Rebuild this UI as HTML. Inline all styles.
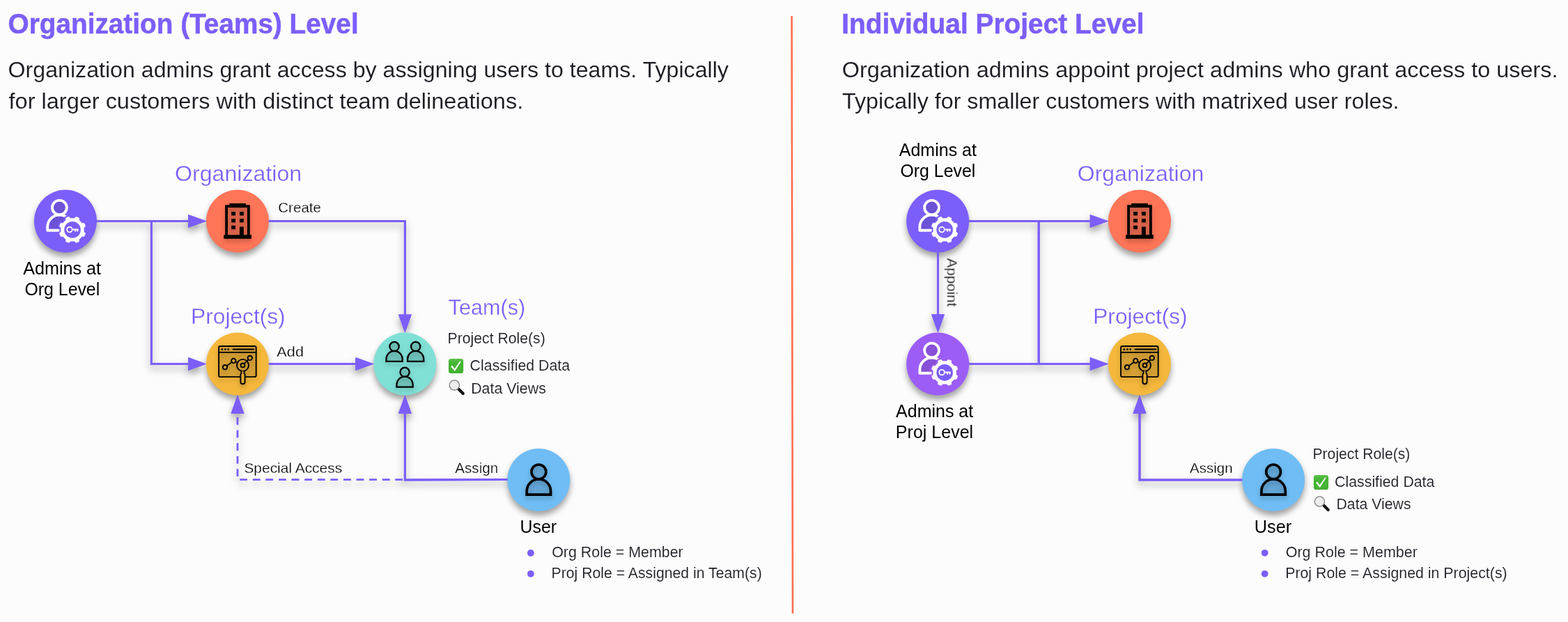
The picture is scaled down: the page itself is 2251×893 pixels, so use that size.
<!DOCTYPE html>
<html lang="en"><head><meta charset="utf-8"><title>Access control levels</title>
<style>html,body{margin:0;padding:0;background:#FCFCFC;}body{width:2251px;height:893px;overflow:hidden;}svg{display:block;}text{font-family:"Liberation Sans",sans-serif;white-space:pre;}</style>
</head><body>
<svg width="2251" height="893" viewBox="0 0 2251 893">
<defs>
<filter id="shc" filterUnits="userSpaceOnUse" x="0" y="0" width="2251" height="893" color-interpolation-filters="sRGB"><feDropShadow dx="0" dy="6" stdDeviation="4.5" flood-color="#000" flood-opacity="0.37"/></filter>
<filter id="shl" filterUnits="userSpaceOnUse" x="0" y="0" width="2251" height="893" color-interpolation-filters="sRGB"><feDropShadow dx="0" dy="6" stdDeviation="5.5" flood-color="#000" flood-opacity="0.38"/></filter>
<linearGradient id="gg" x1="0" y1="0" x2="0" y2="1"><stop offset="0" stop-color="#5FC24C"/><stop offset="0.25" stop-color="#47B535"/><stop offset="1" stop-color="#45B233"/></linearGradient>
<filter id="gs" filterUnits="userSpaceOnUse" x="0" y="0" width="2251" height="893"><feOffset dx="0" dy="0"/></filter>
<filter id="shw" filterUnits="userSpaceOnUse" x="0" y="0" width="2251" height="893" color-interpolation-filters="sRGB"><feDropShadow dx="0" dy="3" stdDeviation="3" flood-color="#000" flood-opacity="0.08"/></filter>
<filter id="shi" filterUnits="userSpaceOnUse" x="0" y="0" width="2251" height="893" color-interpolation-filters="sRGB"><feDropShadow dx="0" dy="4" stdDeviation="3.5" flood-color="#000" flood-opacity="0.22"/></filter>
<g id="usr"><path d="M-17.2,32.8 V27.7 A17.2,17.2 0 0 1 17.2,27.7 V32.8 Z"/><circle cx="0" cy="0" r="10.4"/></g>
<g id="usr2"><path d="M-17.5,32.8 V27.7 A17.5,17.5 0 0 1 17.5,27.7 V32.8 Z"/><circle cx="0" cy="0.8" r="10.0"/></g>
</defs>
<rect width="2251" height="893" fill="#FCFCFC"/>
<path d="M1136.6,23 L1138.0,880.7" stroke="#FF6E4E" stroke-width="2.6" fill="none"/>
<g filter="url(#gs)">
<text transform="translate(11.58,48.00) scale(0.9741,1)" font-size="39.8" font-weight="bold" fill="#7C5EFA" stroke="#7C5EFA" stroke-width="0.5">Organization (Teams) Level</text>
<text transform="translate(1208.30,48.00) scale(0.9772,1)" font-size="39.8" font-weight="bold" fill="#7C5EFA" stroke="#7C5EFA" stroke-width="0.5">Individual Project Level</text>
<text transform="translate(11.53,110.70) scale(1.0182,1)" font-size="31.6" font-weight="normal" fill="#1B1B22" stroke="#FCFCFC" stroke-width="0.1">Organization admins grant access by assigning users to teams. Typically</text>
<text transform="translate(12.59,155.50) scale(1.0283,1)" font-size="31.6" font-weight="normal" fill="#1B1B22" stroke="#FCFCFC" stroke-width="0.1">for larger customers with distinct team delineations.</text>
<text transform="translate(1208.72,110.70) scale(1.0271,1)" font-size="31.6" font-weight="normal" fill="#1B1B22" stroke="#FCFCFC" stroke-width="0.1">Organization admins appoint project admins who grant access to users.</text>
<text transform="translate(1209.07,155.50) scale(1.0214,1)" font-size="31.6" font-weight="normal" fill="#1B1B22" stroke="#FCFCFC" stroke-width="0.1">Typically for smaller customers with matrixed user roles.</text>
<text transform="translate(251.04,259.70) scale(1.0174,1)" font-size="31.6" font-weight="normal" fill="#7C5EFA" stroke="#FCFCFC" stroke-width="0.3">Organization</text>
<text transform="translate(274.06,464.50) scale(1.0033,1)" font-size="31.6" font-weight="normal" fill="#7C5EFA" stroke="#FCFCFC" stroke-width="0.3">Project(s)</text>
<text transform="translate(643.61,451.80) scale(0.9697,1)" font-size="31.6" font-weight="normal" fill="#7C5EFA" stroke="#FCFCFC" stroke-width="0.3">Team(s)</text>
<text transform="translate(1546.74,259.90) scale(1.0140,1)" font-size="31.6" font-weight="normal" fill="#7C5EFA" stroke="#FCFCFC" stroke-width="0.3">Organization</text>
<text transform="translate(1569.27,464.70) scale(1.0018,1)" font-size="31.6" font-weight="normal" fill="#7C5EFA" stroke="#FCFCFC" stroke-width="0.3">Project(s)</text>
<text transform="translate(33.28,393.50) scale(1.0059,1)" font-size="25" font-weight="normal" fill="#000000">Admins at</text>
<text transform="translate(35.52,423.90) scale(0.9942,1)" font-size="25" font-weight="normal" fill="#000000">Org Level</text>
<text transform="translate(1290.78,224.40) scale(1.0004,1)" font-size="25" font-weight="normal" fill="#000000">Admins at</text>
<text transform="translate(1292.42,254.00) scale(0.9952,1)" font-size="25" font-weight="normal" fill="#000000">Org Level</text>
<text transform="translate(1286.08,598.60) scale(0.9995,1)" font-size="25" font-weight="normal" fill="#000000">Admins at</text>
<text transform="translate(1285.84,628.80) scale(1.0019,1)" font-size="25" font-weight="normal" fill="#000000">Proj Level</text>
<text transform="translate(746.41,764.90) scale(0.9982,1)" font-size="25" font-weight="normal" fill="#000000">User</text>
<text transform="translate(1800.78,765.00) scale(1.0121,1)" font-size="25" font-weight="normal" fill="#000000">User</text>
<text transform="translate(399.23,304.80) scale(0.9850,1)" font-size="20.9" font-weight="normal" fill="#000000" stroke="#FCFCFC" stroke-width="0.25">Create</text>
<text transform="translate(397.37,511.50) scale(1.0377,1)" font-size="20.9" font-weight="normal" fill="#000000" stroke="#FCFCFC" stroke-width="0.25">Add</text>
<text transform="translate(350.39,678.80) scale(1.0023,1)" font-size="20.9" font-weight="normal" fill="#000000" stroke="#FCFCFC" stroke-width="0.25">Special Access</text>
<text transform="translate(653.29,678.80) scale(0.9861,1)" font-size="20.9" font-weight="normal" fill="#000000" stroke="#FCFCFC" stroke-width="0.25">Assign</text>
<text transform="translate(1707.99,678.60) scale(0.9828,1)" font-size="20.9" font-weight="normal" fill="#000000" stroke="#FCFCFC" stroke-width="0.25">Assign</text>
<text transform="translate(642.57,493.00) scale(1.0004,1)" font-size="21.2" font-weight="normal" fill="#1B1B22" stroke="#FCFCFC" stroke-width="0.12">Project Role(s)</text>
<text transform="translate(674.60,532.00) scale(1.0075,1)" font-size="21.2" font-weight="normal" fill="#1B1B22" stroke="#FCFCFC" stroke-width="0.12">Classified Data</text>
<text transform="translate(676.15,564.50) scale(1.0089,1)" font-size="21.2" font-weight="normal" fill="#1B1B22" stroke="#FCFCFC" stroke-width="0.12">Data Views</text>
<text transform="translate(1884.47,659.10) scale(0.9982,1)" font-size="21.2" font-weight="normal" fill="#1B1B22" stroke="#FCFCFC" stroke-width="0.12">Project Role(s)</text>
<text transform="translate(1916.10,699.00) scale(1.0054,1)" font-size="21.2" font-weight="normal" fill="#1B1B22" stroke="#FCFCFC" stroke-width="0.12">Classified Data</text>
<text transform="translate(1918.46,731.00) scale(1.0031,1)" font-size="21.2" font-weight="normal" fill="#1B1B22" stroke="#FCFCFC" stroke-width="0.12">Data Views</text>
<text transform="translate(792.14,800.00) scale(1.0104,1)" font-size="21.2" font-weight="normal" fill="#1B1B22" stroke="#FCFCFC" stroke-width="0.12">Org Role = Member</text>
<text transform="translate(791.56,829.80) scale(1.0017,1)" font-size="21.2" font-weight="normal" fill="#1B1B22" stroke="#FCFCFC" stroke-width="0.12">Proj Role = Assigned in Team(s)</text>
<text transform="translate(1845.74,800.00) scale(1.0125,1)" font-size="21.2" font-weight="normal" fill="#1B1B22" stroke="#FCFCFC" stroke-width="0.12">Org Role = Member</text>
<text transform="translate(1845.15,830.00) scale(1.0074,1)" font-size="21.2" font-weight="normal" fill="#1B1B22" stroke="#FCFCFC" stroke-width="0.12">Proj Role = Assigned in Project(s)</text>
<text transform="translate(1359.6,370.6) rotate(90) scale(0.985,1)" font-size="20.9" fill="#000" stroke="#FCFCFC" stroke-width="0.25">Appoint</text>
</g>
<g filter="url(#shl)">
<g fill="#7C5EFA" stroke="#7C5EFA" stroke-width="3" stroke-linejoin="miter">
<g fill="none">
<path d="M138.6,317.5 H272"/>
<path d="M217.4,317.5 V522.5 H272"/>
<path d="M385.6,317.5 H581.4 V453"/>
<path d="M385.6,522.5 H512"/>
<path d="M728.8,688.5 L581.4,689.0 V592"/>
<path d="M581.4,688.8 H341 V592" stroke-width="2.5" stroke-dasharray="10.6 8" stroke-dashoffset="-3.3"/>
<path d="M1390.8,317.5 H1567"/>
<path d="M1390.8,522.5 H1567"/>
<path d="M1491.2,317.5 V522.5"/>
<path d="M1346.5,362 V453"/>
<path d="M1783.5,689.0 H1636 V592"/>
</g>
<g stroke="none">
<polygon points="296.6,317.5 270.1,308.0 270.1,327.0"/>
<polygon points="296.6,522.5 270.1,513.0 270.1,532.0"/>
<polygon points="581.4,478.0 571.9,451.5 590.9,451.5"/>
<polygon points="536.8,522.5 510.3,513.0 510.3,532.0"/>
<polygon points="581.4,567.3 571.9,593.8 590.9,593.8"/>
<polygon points="341.0,567.3 331.5,593.8 350.5,593.8"/>
<polygon points="1591.3,317.5 1564.8,308.0 1564.8,327.0"/>
<polygon points="1591.3,522.5 1564.8,513.0 1564.8,532.0"/>
<polygon points="1346.5,477.8 1337.0,451.3 1356.0,451.3"/>
<polygon points="1636.0,567.3 1626.5,593.8 1645.5,593.8"/>
</g>
</g>
</g>
<g filter="url(#shc)">
<circle cx="94.0" cy="317.5" r="45" fill="#7C5EFA"/>
<circle cx="341.0" cy="317.5" r="45" fill="#FF7557"/>
<circle cx="341.0" cy="522.5" r="45" fill="#F5B83C"/>
<circle cx="581.4" cy="522.5" r="45" fill="#80E0D6"/>
<circle cx="773.4" cy="689.0" r="45" fill="#70BDF5"/>
<circle cx="1346.2" cy="317.5" r="45" fill="#7C5EFA"/>
<circle cx="1346.2" cy="522.5" r="45" fill="#9C5CF6"/>
<circle cx="1636.0" cy="317.5" r="45" fill="#FF7557"/>
<circle cx="1636.0" cy="522.5" r="45" fill="#F5B83C"/>
<circle cx="1828.1" cy="689.0" r="45" fill="#70BDF5"/>
</g>
<g fill="#7C5EFA" stroke="#7C5EFA" stroke-width="3" stroke-linejoin="miter">
<g fill="none">
<path d="M138.6,317.5 H272"/>
<path d="M217.4,317.5 V522.5 H272"/>
<path d="M385.6,317.5 H581.4 V453"/>
<path d="M385.6,522.5 H512"/>
<path d="M728.8,688.5 L581.4,689.0 V592"/>
<path d="M581.4,688.8 H341 V592" stroke-width="2.5" stroke-dasharray="10.6 8" stroke-dashoffset="-3.3"/>
<path d="M1390.8,317.5 H1567"/>
<path d="M1390.8,522.5 H1567"/>
<path d="M1491.2,317.5 V522.5"/>
<path d="M1346.5,362 V453"/>
<path d="M1783.5,689.0 H1636 V592"/>
</g>
<g stroke="none">
<polygon points="296.6,317.5 270.1,308.0 270.1,327.0"/>
<polygon points="296.6,522.5 270.1,513.0 270.1,532.0"/>
<polygon points="581.4,478.0 571.9,451.5 590.9,451.5"/>
<polygon points="536.8,522.5 510.3,513.0 510.3,532.0"/>
<polygon points="581.4,567.3 571.9,593.8 590.9,593.8"/>
<polygon points="341.0,567.3 331.5,593.8 350.5,593.8"/>
<polygon points="1591.3,317.5 1564.8,308.0 1564.8,327.0"/>
<polygon points="1591.3,522.5 1564.8,513.0 1564.8,532.0"/>
<polygon points="1346.5,477.8 1337.0,451.3 1356.0,451.3"/>
<polygon points="1636.0,567.3 1626.5,593.8 1645.5,593.8"/>
</g>
</g>
<g>
<use href="#usr" x="85.40" y="298.00" fill="rgba(0,0,0,0.13)" stroke="#fff" stroke-width="3.9" stroke-linejoin="round"/>
<path d="M121.54,332.26L124.09,334.47A20.6,20.6 0 0 1 121.44,340.87L118.07,340.64A17.7,17.7 0 0 1 114.74,343.97L114.97,347.34A20.6,20.6 0 0 1 108.57,349.99L106.36,347.44A17.7,17.7 0 0 1 101.64,347.44L99.43,349.99A20.6,20.6 0 0 1 93.03,347.34L93.26,343.97A17.7,17.7 0 0 1 89.93,340.64L86.56,340.87A20.6,20.6 0 0 1 83.91,334.47L86.46,332.26A17.7,17.7 0 0 1 86.46,327.54L83.91,325.33A20.6,20.6 0 0 1 86.56,318.93L89.93,319.16A17.7,17.7 0 0 1 93.26,315.83L93.03,312.46A20.6,20.6 0 0 1 99.43,309.81L101.64,312.36A17.7,17.7 0 0 1 106.36,312.36L108.57,309.81A20.6,20.6 0 0 1 114.97,312.46L114.74,315.83A17.7,17.7 0 0 1 118.07,319.16L121.44,318.93A20.6,20.6 0 0 1 124.09,325.33L121.54,327.54A17.7,17.7 0 0 1 121.54,332.26Z" fill="#fff" stroke="#7C5EFA" stroke-width="2" stroke-linejoin="round"/>
</g>
<circle cx="104.00" cy="329.90" r="11.8" fill="#7C5EFA"/>
<g fill="none" stroke="#fff" stroke-width="1.7"><circle cx="99.90" cy="329.60" r="3.8"/><path d="M103.70,329.60 H112.60 M107.90,329.60 v3 M111.30,329.60 v3" stroke-width="2"/></g>
<g>
<use href="#usr" x="1337.60" y="298.00" fill="rgba(0,0,0,0.13)" stroke="#fff" stroke-width="3.9" stroke-linejoin="round"/>
<path d="M1373.74,332.26L1376.29,334.47A20.6,20.6 0 0 1 1373.64,340.87L1370.27,340.64A17.7,17.7 0 0 1 1366.94,343.97L1367.17,347.34A20.6,20.6 0 0 1 1360.77,349.99L1358.56,347.44A17.7,17.7 0 0 1 1353.84,347.44L1351.63,349.99A20.6,20.6 0 0 1 1345.23,347.34L1345.46,343.97A17.7,17.7 0 0 1 1342.13,340.64L1338.76,340.87A20.6,20.6 0 0 1 1336.11,334.47L1338.66,332.26A17.7,17.7 0 0 1 1338.66,327.54L1336.11,325.33A20.6,20.6 0 0 1 1338.76,318.93L1342.13,319.16A17.7,17.7 0 0 1 1345.46,315.83L1345.23,312.46A20.6,20.6 0 0 1 1351.63,309.81L1353.84,312.36A17.7,17.7 0 0 1 1358.56,312.36L1360.77,309.81A20.6,20.6 0 0 1 1367.17,312.46L1366.94,315.83A17.7,17.7 0 0 1 1370.27,319.16L1373.64,318.93A20.6,20.6 0 0 1 1376.29,325.33L1373.74,327.54A17.7,17.7 0 0 1 1373.74,332.26Z" fill="#fff" stroke="#7C5EFA" stroke-width="2" stroke-linejoin="round"/>
</g>
<circle cx="1356.20" cy="329.90" r="11.8" fill="#7C5EFA"/>
<g fill="none" stroke="#fff" stroke-width="1.7"><circle cx="1352.10" cy="329.60" r="3.8"/><path d="M1355.90,329.60 H1364.80 M1360.10,329.60 v3 M1363.50,329.60 v3" stroke-width="2"/></g>
<g>
<use href="#usr" x="1337.60" y="503.00" fill="rgba(0,0,0,0.13)" stroke="#fff" stroke-width="3.9" stroke-linejoin="round"/>
<path d="M1373.74,537.26L1376.29,539.47A20.6,20.6 0 0 1 1373.64,545.87L1370.27,545.64A17.7,17.7 0 0 1 1366.94,548.97L1367.17,552.34A20.6,20.6 0 0 1 1360.77,554.99L1358.56,552.44A17.7,17.7 0 0 1 1353.84,552.44L1351.63,554.99A20.6,20.6 0 0 1 1345.23,552.34L1345.46,548.97A17.7,17.7 0 0 1 1342.13,545.64L1338.76,545.87A20.6,20.6 0 0 1 1336.11,539.47L1338.66,537.26A17.7,17.7 0 0 1 1338.66,532.54L1336.11,530.33A20.6,20.6 0 0 1 1338.76,523.93L1342.13,524.16A17.7,17.7 0 0 1 1345.46,520.83L1345.23,517.46A20.6,20.6 0 0 1 1351.63,514.81L1353.84,517.36A17.7,17.7 0 0 1 1358.56,517.36L1360.77,514.81A20.6,20.6 0 0 1 1367.17,517.46L1366.94,520.83A17.7,17.7 0 0 1 1370.27,524.16L1373.64,523.93A20.6,20.6 0 0 1 1376.29,530.33L1373.74,532.54A17.7,17.7 0 0 1 1373.74,537.26Z" fill="#fff" stroke="#9C5CF6" stroke-width="2" stroke-linejoin="round"/>
</g>
<circle cx="1356.20" cy="534.90" r="11.8" fill="#7C5EFA"/>
<g fill="none" stroke="#fff" stroke-width="1.7"><circle cx="1352.10" cy="534.60" r="3.8"/><path d="M1355.90,534.60 H1364.80 M1360.10,534.60 v3 M1363.50,534.60 v3" stroke-width="2"/></g>
<g transform="translate(0.00,0.00)">
<g filter="url(#shi)">
<rect x="327" y="298" width="28" height="40" fill="rgba(0,0,0,0.09)"/>
<path fill="#000" fill-rule="evenodd" d="M329.3,292 H352.9 V294.3 H358.8 V337.3 H360.9 V342.8 H321.3 V337.3 H323.2 V294.3 H329.3 Z M327,298.1 V337.3 H344 V325.5 H349.8 V337.3 H355 V298.1 Z"/>
<rect x="332.2" y="304.0" width="5.8" height="5.4" fill="#000"/>
<rect x="332.2" y="314.0" width="5.8" height="5.4" fill="#000"/>
<rect x="332.2" y="323.8" width="5.8" height="5.4" fill="#000"/>
<rect x="344.0" y="304.0" width="5.8" height="5.4" fill="#000"/>
<rect x="344.0" y="314.0" width="5.8" height="5.4" fill="#000"/>
</g></g>
<g transform="translate(1295.00,0.00)">
<g filter="url(#shi)">
<rect x="327" y="298" width="28" height="40" fill="rgba(0,0,0,0.09)"/>
<path fill="#000" fill-rule="evenodd" d="M329.3,292 H352.9 V294.3 H358.8 V337.3 H360.9 V342.8 H321.3 V337.3 H323.2 V294.3 H329.3 Z M327,298.1 V337.3 H344 V325.5 H349.8 V337.3 H355 V298.1 Z"/>
<rect x="332.2" y="304.0" width="5.8" height="5.4" fill="#000"/>
<rect x="332.2" y="314.0" width="5.8" height="5.4" fill="#000"/>
<rect x="332.2" y="323.8" width="5.8" height="5.4" fill="#000"/>
<rect x="344.0" y="304.0" width="5.8" height="5.4" fill="#000"/>
<rect x="344.0" y="314.0" width="5.8" height="5.4" fill="#000"/>
</g></g>
<g transform="translate(0.00,0.00)">
<g filter="url(#shi)" fill="none" stroke="#000" stroke-width="1.9" stroke-linecap="round" stroke-linejoin="round">
<rect x="314.1" y="497" width="53.6" height="44.1" rx="2.2" fill="rgba(0,0,0,0.10)"/>
<path d="M314.1,505.9 H367.7"/>
<path d="M334.6,501.6 H364.3" stroke-width="2"/>
<g fill="#000" stroke="none"><circle cx="318.8" cy="501.6" r="1.35"/><circle cx="323.4" cy="501.6" r="1.35"/><circle cx="327.7" cy="501.6" r="1.35"/></g>
<path d="M325.5,525.2 L332.8,519.9 M338.3,519.4 L341.0,520.7 M351.0,521.8 L356.5,516.3"/>
<circle cx="323" cy="527.2" r="3.2"/><circle cx="335.3" cy="517.9" r="3.2"/><circle cx="358.8" cy="513.9" r="3.2"/>
<circle cx="348.5" cy="524.4" r="2.9"/><circle cx="348.5" cy="524.4" r="8.5"/>
<path d="M346.5,532.8 V536.2 C345.6,536.6 345.4,537.2 345.4,538 V548.2 A3.1,3.1 0 0 0 351.6,548.2 V538 C351.6,537.2 351.4,536.6 350.5,536.2 V532.8" fill="#E0A935"/>
</g></g>
<g transform="translate(1295.00,0.00)">
<g filter="url(#shi)" fill="none" stroke="#000" stroke-width="1.9" stroke-linecap="round" stroke-linejoin="round">
<rect x="314.1" y="497" width="53.6" height="44.1" rx="2.2" fill="rgba(0,0,0,0.10)"/>
<path d="M314.1,505.9 H367.7"/>
<path d="M334.6,501.6 H364.3" stroke-width="2"/>
<g fill="#000" stroke="none"><circle cx="318.8" cy="501.6" r="1.35"/><circle cx="323.4" cy="501.6" r="1.35"/><circle cx="327.7" cy="501.6" r="1.35"/></g>
<path d="M325.5,525.2 L332.8,519.9 M338.3,519.4 L341.0,520.7 M351.0,521.8 L356.5,516.3"/>
<circle cx="323" cy="527.2" r="3.2"/><circle cx="335.3" cy="517.9" r="3.2"/><circle cx="358.8" cy="513.9" r="3.2"/>
<circle cx="348.5" cy="524.4" r="2.9"/><circle cx="348.5" cy="524.4" r="8.5"/>
<path d="M346.5,532.8 V536.2 C345.6,536.6 345.4,537.2 345.4,538 V548.2 A3.1,3.1 0 0 0 351.6,548.2 V538 C351.6,537.2 351.4,536.6 350.5,536.2 V532.8" fill="#E0A935"/>
</g></g>
<g filter="url(#shi)" fill="rgba(0,0,0,0.10)" stroke="#000" stroke-linejoin="miter">
<use href="#usr2" transform="translate(566.10,497.00) scale(0.664)" stroke-width="3.4"/>
<use href="#usr2" transform="translate(596.70,497.00) scale(0.664)" stroke-width="3.4"/>
<use href="#usr2" transform="translate(581.10,533.80) scale(0.664)" stroke-width="3.4"/>
</g>
<g filter="url(#shi)" fill="rgba(0,0,0,0.10)" stroke="#000" stroke-linejoin="miter">
<use href="#usr" x="773.40" y="677.40" stroke-width="3.7"/>
</g>
<g filter="url(#shi)" fill="rgba(0,0,0,0.10)" stroke="#000" stroke-linejoin="miter">
<use href="#usr" x="1828.10" y="677.40" stroke-width="3.7"/>
</g>
<g transform="translate(644,515)" role="img" aria-label="check mark"><rect x="0" y="0" width="21.2" height="21" rx="3.6" fill="url(#gg)"/><path d="M3.2,11.2 L5.2,9.6 L8.7,14.2 L16.2,3.6 L17.6,4.6 L8.9,18 Z" fill="#fff"/></g>
<g transform="translate(644.6,545.4)" role="img" aria-label="magnifying glass"><path d="M12.6,12.4 L14.6,14.4" stroke="#8a8a8a" stroke-width="2.6"/><path d="M14.2,13.6 L20.2,19.6" stroke="#111" stroke-width="4.2" stroke-linecap="round"/><circle cx="7.8" cy="7.6" r="7.1" fill="#EEEEEE" stroke="#808080" stroke-width="1.3"/></g>
<g transform="translate(1885.9,682)" role="img" aria-label="check mark"><rect x="0" y="0" width="21.2" height="21" rx="3.6" fill="url(#gg)"/><path d="M3.2,11.2 L5.2,9.6 L8.7,14.2 L16.2,3.6 L17.6,4.6 L8.9,18 Z" fill="#fff"/></g>
<g transform="translate(1886.6,712.4)" role="img" aria-label="magnifying glass"><path d="M12.6,12.4 L14.6,14.4" stroke="#8a8a8a" stroke-width="2.6"/><path d="M14.2,13.6 L20.2,19.6" stroke="#111" stroke-width="4.2" stroke-linecap="round"/><circle cx="7.8" cy="7.6" r="7.1" fill="#EEEEEE" stroke="#808080" stroke-width="1.3"/></g>
<circle cx="761.9" cy="794" r="4.9" fill="#7C5EFA"/>
<circle cx="761.9" cy="823.8" r="4.9" fill="#7C5EFA"/>
<circle cx="1815.7" cy="793.8" r="4.9" fill="#7C5EFA"/>
<circle cx="1815.7" cy="823.8" r="4.9" fill="#7C5EFA"/>
</svg>
</body></html>
